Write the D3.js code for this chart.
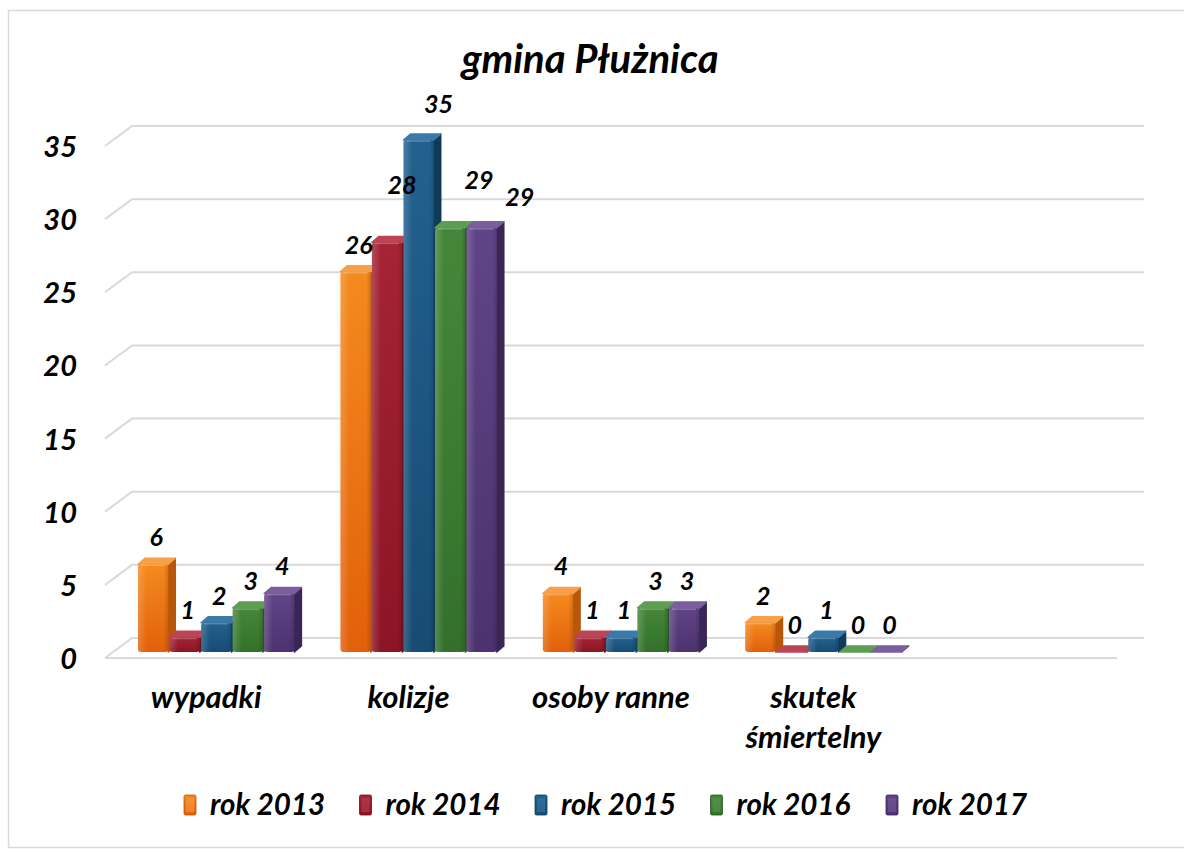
<!DOCTYPE html>
<html>
<head>
<meta charset="utf-8">
<script src="https://cdn.jsdelivr.net/npm/d3@7"></script>
<style>
  body { margin: 0; background: #fff; }
  text { font-family: Lato, "Open Sans", sans-serif; font-weight: bold; font-style: italic; fill: #000; }
</style>
</head>
<body>
<svg id="chart" width="1184" height="852"></svg>
<script>
// data
const categories = ['wypadki', 'kolizje', 'osoby ranne', 'skutek śmiertelny', ''];
const seriesNames = ['rok 2013', 'rok 2014', 'rok 2015', 'rok 2016', 'rok 2017'];
const rok2013 = [6, 26, 4, 2];
const rok2014 = [1, 28, 1, 0];
const rok2015 = [2, 35, 1, 1];
const rok2016 = [3, 29, 3, 0];
const rok2017 = [4, 29, 3, 0];
const yTicks = [0, 5, 10, 15, 20, 25, 30, 35];
const seriesValues = [rok2013, rok2014, rok2015, rok2016, rok2017];

// colours: front, top, side
const palette = [
  { front: ['#F58A1E', '#E2600A'], top: '#F7A04A', side: '#B8560A' },
  { front: ['#A52435', '#8C1424'], top: '#BC4555', side: '#6A0F1B' },
  { front: ['#22618F', '#174C74'], top: '#3A7AA8', side: '#103A5A' },
  { front: ['#45873A', '#33712A'], top: '#5E9E52', side: '#25561E' },
  { front: ['#614487', '#4C326F'], top: '#7A5E9E', side: '#3A2656' }
];

const svg = d3.select('#chart');

// outer border
svg.append('rect')
  .attr('x', 8.5).attr('y', 10.5)
  .attr('width', 1200).attr('height', 837)
  .attr('fill', 'none').attr('stroke', '#D9D9D9').attr('stroke-width', 1.5);

// title
svg.append('text')
  .attr('x', 590).attr('y', 73)
  .attr('text-anchor', 'middle')
  .style('font-size', '40px')
  .text('gmina Płużnica');

// front plane scales, back wall is shifted by depth
const depth = { dx: 27, dy: -20 };
const x = d3.scaleBand().domain(categories).range([105, 1117]);
const y = d3.scaleLinear().domain([0, 35]).range([658, 146]);

// gridlines (floor edge + back wall)
const grid = svg.append('g').attr('stroke', '#D9D9D9').attr('stroke-width', 2).attr('fill', 'none');
yTicks.forEach(t => {
  const yy = y(t);
  grid.append('path')
    .attr('d', `M105,${yy} L${105 + depth.dx},${yy + depth.dy} L${1117 + depth.dx},${yy + depth.dy}`);
});
grid.append('line')
  .attr('x1', 105).attr('x2', 1117)
  .attr('y1', y(0)).attr('y2', y(0));

// y axis labels
svg.append('g').selectAll('text')
  .data(yTicks)
  .join('text')
  .attr('x', 77)
  .attr('y', d => y(d) + 11)
  .attr('text-anchor', 'end')
  .style('font-size', '29px')
  .text(d => d);

// gradients
const defs = svg.append('defs');
palette.forEach((p, i) => {
  const g = defs.append('linearGradient').attr('id', 'fg' + i)
    .attr('x1', 0).attr('y1', 0).attr('x2', 0).attr('y2', 1);
  g.append('stop').attr('offset', '0%').attr('stop-color', p.front[0]);
  g.append('stop').attr('offset', '100%').attr('stop-color', p.front[1]);
  const h = defs.append('linearGradient').attr('id', 'hl' + i)
    .attr('x1', 0).attr('y1', 0).attr('x2', 1).attr('y2', 0);
  h.append('stop').attr('offset', '0%').attr('stop-color', '#fff').attr('stop-opacity', 0.18);
  h.append('stop').attr('offset', '30%').attr('stop-color', '#fff').attr('stop-opacity', 0);
  h.append('stop').attr('offset', '85%').attr('stop-color', '#000').attr('stop-opacity', 0);
  h.append('stop').attr('offset', '100%').attr('stop-color', '#000').attr('stop-opacity', 0.15);
});

// bars sit a bit behind the front edge
const barPlane = { dx: 10, dy: -6 };
const barDepth = { dx: 7, dy: -6 };
const inner = d3.scaleBand().domain(d3.range(seriesNames.length))
  .range([0, x.bandwidth()]).paddingOuter(0.73).paddingInner(0.04);

// manual nudges for the moved labels in "kolizje"
const labelNudge = { '1-1': [12, -30], '1-2': [17, -9], '1-3': [26, -21], '1-4': [35, -4] };

const bars = svg.append('g');
const labels = svg.append('g');
categories.forEach((cat, ci) => {
  seriesValues.forEach((vals, si) => {
    const v = vals[ci];
    if (v === undefined) return;
    const p = palette[si];
    const x0 = x(cat) + inner(si) + barPlane.dx;
    const w = inner.bandwidth();
    const yb = y(0) + barPlane.dy;
    const yt = y(v) + barPlane.dy;
    const g = bars.append('g');
    // side face
    g.append('path')
      .attr('d', `M${x0 + w},${yt} L${x0 + w + barDepth.dx},${yt + barDepth.dy} L${x0 + w + barDepth.dx},${yb + barDepth.dy} L${x0 + w},${yb} Z`)
      .attr('fill', p.side).attr('stroke', p.side).attr('stroke-linejoin', 'round').attr('stroke-width', 1.5);
    // top face
    g.append('path')
      .attr('d', `M${x0},${yt} L${x0 + barDepth.dx},${yt + barDepth.dy} L${x0 + w + barDepth.dx},${yt + barDepth.dy} L${x0 + w},${yt} Z`)
      .attr('fill', p.top).attr('stroke', p.top).attr('stroke-linejoin', 'round').attr('stroke-width', 1.5);
    // front face
    if (yb - yt > 0) {
      g.append('rect')
        .attr('x', x0).attr('y', yt).attr('width', w).attr('height', yb - yt)
        .attr('rx', Math.min(3, (yb - yt) / 2))
        .attr('fill', `url(#fg${si})`);
      g.append('rect')
        .attr('x', x0).attr('y', yt).attr('width', w).attr('height', yb - yt)
        .attr('rx', Math.min(3, (yb - yt) / 2))
        .attr('fill', `url(#hl${si})`);
      g.append('line')
        .attr('x1', x0 + 3).attr('x2', x0 + w - 3)
        .attr('y1', yt + 1).attr('y2', yt + 1)
        .attr('stroke', '#fff').attr('stroke-opacity', 0.25).attr('stroke-width', 1.5);
    }
    // value label
    const n = labelNudge[ci + '-' + si] || [0, 0];
    labels.append('text')
      .attr('x', x0 + w / 2 + 3 + n[0])
      .attr('y', yt - 18 + n[1])
      .attr('text-anchor', 'middle')
      .style('font-size', '25px')
      .text(v);
  });
});

// category labels (wrapped)
const catG = svg.append('g');
categories.forEach(cat => {
  if (!cat) return;
  const cx = x(cat) + x.bandwidth() / 2;
  const t = catG.append('text')
    .attr('x', cx)
    .attr('y', 708)
    .attr('text-anchor', 'middle')
    .style('font-size', '31px');
  const words = cat.split(' ');
  let line = [];
  let ts = t.append('tspan').attr('x', cx);
  words.forEach(wd => {
    line.push(wd);
    ts.text(line.join(' '));
    if (ts.node().getComputedTextLength() > 185 && line.length > 1) {
      line.pop();
      ts.text(line.join(' '));
      line = [wd];
      ts = t.append('tspan').attr('x', cx).attr('dy', 40).text(wd);
    }
  });
});

// legend
const legend = svg.append('g').selectAll('g')
  .data(seriesNames)
  .join('g')
  .attr('transform', (d, i) => `translate(${184 + i * 175.5}, 795)`);
legend.append('rect')
  .attr('width', 12).attr('height', 20).attr('rx', 1.5)
  .attr('fill', (d, i) => `url(#fg${i})`)
  .attr('stroke', (d, i) => palette[i].side).attr('stroke-width', 0.8);
legend.append('rect')
  .attr('x', 2).attr('y', 3).attr('width', 8).attr('height', 14)
  .attr('fill', (d, i) => palette[i].top).attr('opacity', 0.5);
legend.append('text')
  .attr('x', 26).attr('y', 20)
  .style('font-size', '29.5px')
  .text(d => d);
</script>
</body>
</html>
